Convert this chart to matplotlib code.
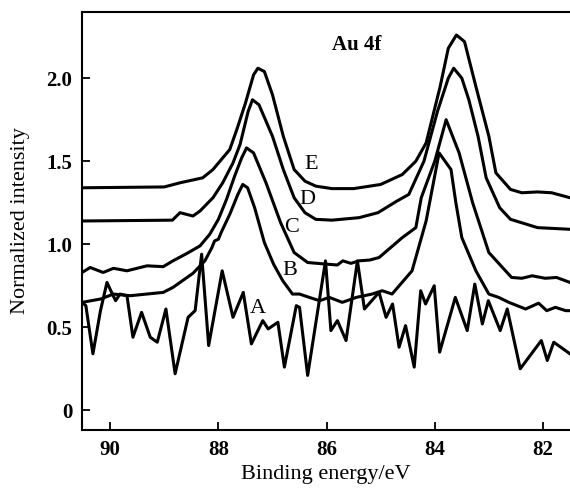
import matplotlib.pyplot as plt

plt.rcParams['font.family'] = ['Liberation Serif', 'DejaVu Serif']

# Binding energy (eV) and normalized intensity for each spectrum
e_E = [90.52, 89.0, 88.71, 88.29, 88.10, 87.92, 87.79, 87.65, 87.5, 87.35, 87.27,
       87.15, 87.0, 86.8, 86.6, 86.4, 86.2, 85.9, 85.5, 85.0, 84.6, 84.35, 84.16,
       83.9, 83.75, 83.6, 83.45, 83.24, 83.0, 82.87, 82.6, 82.39, 82.1, 81.84, 81.5]
y_E = [1.34, 1.345, 1.37, 1.40, 1.45, 1.52, 1.57, 1.70, 1.85, 2.02, 2.06,
       2.04, 1.90, 1.65, 1.45, 1.38, 1.35, 1.335, 1.335, 1.36, 1.42, 1.50, 1.61,
       1.95, 2.18, 2.26, 2.22, 1.95, 1.65, 1.43, 1.33, 1.31, 1.315, 1.31, 1.28]

e_D = [90.52, 88.85, 88.71, 88.47, 88.34, 88.10, 87.92, 87.73, 87.6, 87.45, 87.37,
       87.25, 87.0, 86.8, 86.6, 86.4, 86.2, 85.9, 85.4, 85.05, 84.7, 84.48, 84.2,
       83.95, 83.75, 83.65, 83.5, 83.37, 83.2, 83.05, 82.8, 82.6, 82.1, 81.5]
y_D = [1.14, 1.145, 1.19, 1.17, 1.20, 1.28, 1.37, 1.49, 1.60, 1.80, 1.87,
       1.84, 1.65, 1.45, 1.28, 1.19, 1.15, 1.145, 1.16, 1.19, 1.26, 1.30, 1.50,
       1.80, 2.00, 2.06, 2.00, 1.87, 1.65, 1.40, 1.22, 1.15, 1.10, 1.09]

e_C = [90.52, 90.37, 90.13, 89.94, 89.69, 89.32, 89.02, 88.84, 88.58, 88.34, 88.16,
       88.0, 87.85, 87.7, 87.57, 87.48, 87.35, 87.12, 86.85, 86.6, 86.35, 86.0,
       85.8, 85.7, 85.55, 85.4, 85.2, 85.03, 84.6, 84.35, 84.25, 84.0, 83.79,
       83.55, 83.3, 83.0, 82.58, 82.39, 82.2, 81.96, 81.75, 81.5]
y_C = [0.83, 0.86, 0.83, 0.855, 0.84, 0.87, 0.865, 0.90, 0.945, 0.99, 1.06,
       1.15, 1.27, 1.41, 1.52, 1.58, 1.55, 1.37, 1.13, 0.95, 0.89, 0.88,
       0.875, 0.90, 0.885, 0.90, 0.905, 0.92, 1.04, 1.10, 1.28, 1.50, 1.75,
       1.55, 1.25, 0.95, 0.80, 0.795, 0.81, 0.795, 0.80, 0.77]

e_B = [90.52, 90.18, 89.94, 89.63, 89.02, 88.84, 88.71, 88.47, 88.25, 88.12, 88.07,
       88.0, 87.95, 87.79, 87.64, 87.55, 87.46, 87.33, 87.15, 86.98, 86.81, 86.63,
       86.50, 86.32, 86.13, 85.95, 85.71, 85.45, 85.16, 84.97, 84.79, 84.42, 84.16,
       83.92, 83.70, 83.61, 83.50, 83.24, 83.00, 82.82, 82.63, 82.32, 82.08, 81.93,
       81.77, 81.58, 81.5]
y_B = [0.65, 0.67, 0.70, 0.69, 0.71, 0.74, 0.77, 0.825, 0.90, 0.98, 1.02,
       1.03, 1.07, 1.18, 1.30, 1.36, 1.34, 1.22, 1.01, 0.88, 0.78, 0.70,
       0.70, 0.68, 0.66, 0.68, 0.65, 0.68, 0.70, 0.72, 0.70, 0.84, 1.14,
       1.55, 1.45, 1.25, 1.04, 0.84, 0.70, 0.68, 0.65, 0.61, 0.645, 0.60,
       0.62, 0.60, 0.60]

e_A = [90.52, 90.45, 90.32, 90.18, 90.06, 89.96, 89.90, 89.82, 89.69, 89.58, 89.42,
       89.26, 89.13, 88.97, 88.80, 88.56, 88.43, 88.31, 88.18, 87.93, 87.73, 87.54,
       87.39, 87.18, 87.08, 86.90, 86.78, 86.56, 86.50, 86.35, 86.02, 85.92, 85.80,
       85.64, 85.43, 85.30, 85.03, 84.90, 84.78, 84.66, 84.54, 84.38, 84.26, 84.17,
       84.01, 83.91, 83.62, 83.40, 83.26, 83.12, 83.01, 82.79, 82.66, 82.42, 82.03,
       81.92, 81.80, 81.5]
y_A = [0.65, 0.63, 0.34, 0.60, 0.77, 0.70, 0.66, 0.70, 0.69, 0.44, 0.59,
       0.44, 0.41, 0.61, 0.22, 0.56, 0.60, 0.94, 0.39, 0.84, 0.56, 0.71,
       0.40, 0.54, 0.49, 0.53, 0.26, 0.63, 0.62, 0.21, 0.90, 0.48, 0.54,
       0.42, 0.90, 0.61, 0.71, 0.56, 0.64, 0.38, 0.51, 0.26, 0.72, 0.64,
       0.75, 0.35, 0.68, 0.48, 0.76, 0.52, 0.66, 0.48, 0.61, 0.25, 0.42,
       0.30, 0.41, 0.34]

series = [(e_A, y_A), (e_B, y_B), (e_C, y_C), (e_D, y_D), (e_E, y_E)]
curve_labels = ['A', 'B', 'C', 'D', 'E']
label_pos = [(87.27, 0.61), (86.68, 0.84), (86.65, 1.10), (86.35, 1.27), (86.28, 1.48)]

fig = plt.figure(figsize=(5.7, 4.9), dpi=100)
ax = fig.add_axes([0.144, 0.122, 0.856, 0.854])

for e, y in series:
    ax.plot(e, y, color='black', lw=2.2, solid_joinstyle='round')

for lab, (x, y) in zip(curve_labels, label_pos):
    ax.text(x, y, lab, fontsize=16, ha='center', va='center')

ax.text(85.45, 2.2, 'Au 4f', fontsize=15, fontweight='bold', ha='center', va='center')

ax.set_xlim(90.52, 81.5)
ax.set_ylim(-0.12, 2.40)
ax.set_xticks([90, 88, 86, 84, 82])
ax.set_xticklabels(['90', '88', '86', '84', '82'])
ax.set_yticks([0, 0.5, 1.0, 1.5, 2.0])
ax.set_yticklabels(['0', '0.5', '1.0', '1.5', '2.0'])
ax.tick_params(direction='in', length=6, width=1.3, labelsize=15, pad=7)
for lbl in ax.get_xticklabels() + ax.get_yticklabels():
    lbl.set_fontweight('bold')
ax.spines['right'].set_visible(False)
for s in ['left', 'bottom', 'top']:
    ax.spines[s].set_linewidth(1.5)

ax.set_xlabel('Binding energy/eV', fontsize=16, labelpad=4)
ax.set_ylabel('Normalized intensity', fontsize=16, labelpad=12)

fig.savefig('out.png', dpi=100)
